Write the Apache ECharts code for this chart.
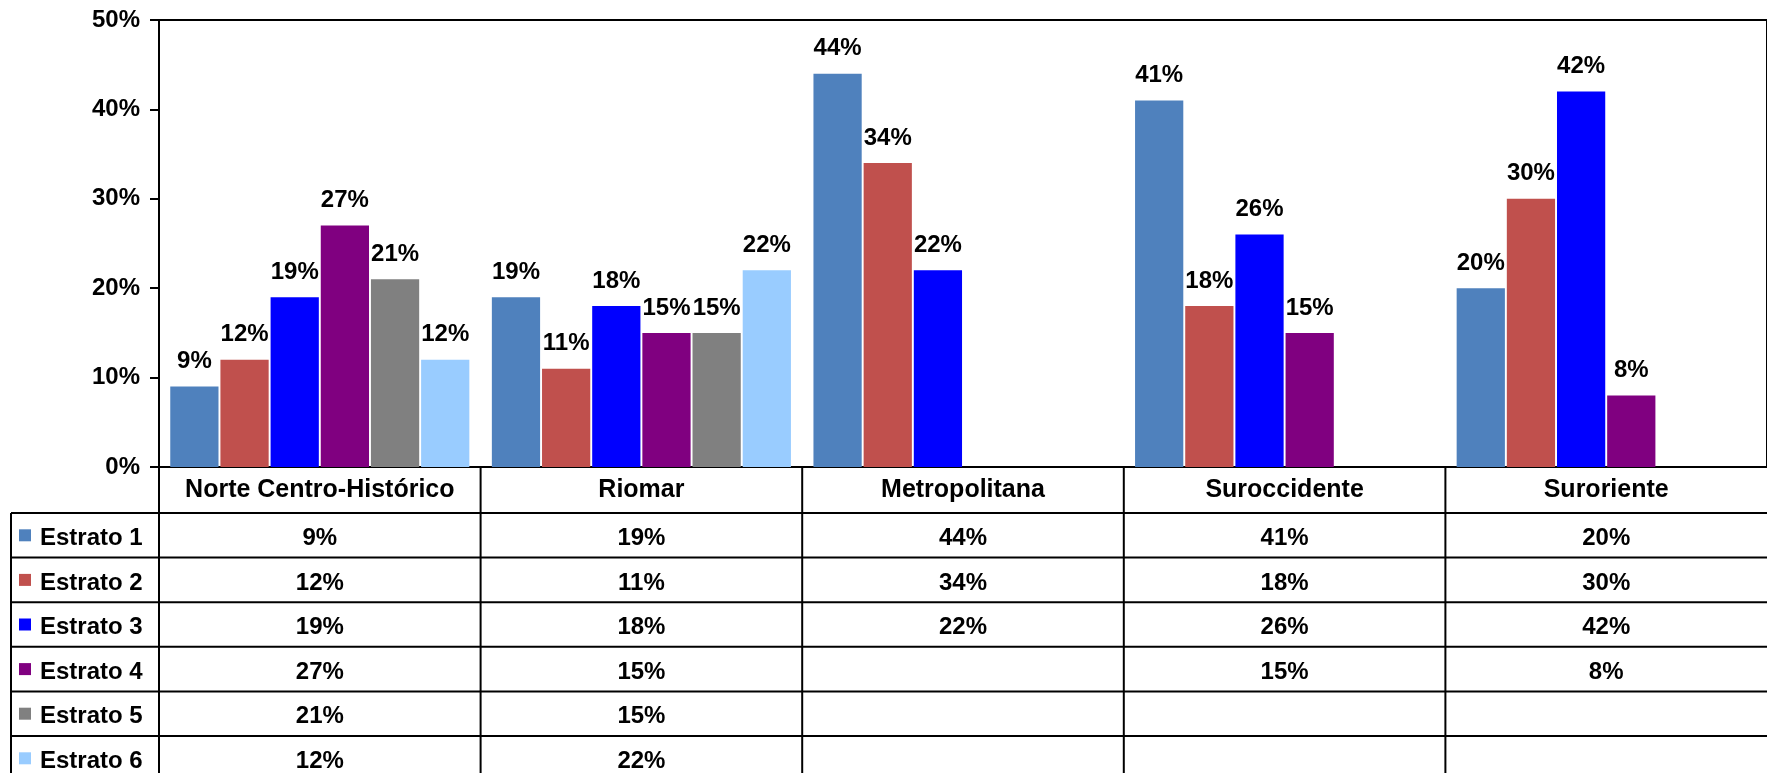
<!DOCTYPE html>
<html>
<head>
<meta charset="utf-8">
<title>Estratos por localidad</title>
<script src="https://cdn.jsdelivr.net/npm/echarts@6/dist/echarts.min.js"></script>
<style>
  html, body { margin: 0; padding: 0; background: #fff; }
  #chart { width: 1767px; height: 773px; }
</style>
</head>
<body>
<div id="chart"></div>
<script>
// datos
const categories = ['Norte Centro-Histórico', 'Riomar', 'Metropolitana', 'Suroccidente', 'Suroriente']
const seriesNames = ['Estrato 1', 'Estrato 2', 'Estrato 3', 'Estrato 4', 'Estrato 5', 'Estrato 6']
const estrato1 = [9, 19, 44, 41, 20]
const estrato2 = [12, 11, 34, 18, 30]
const estrato3 = [19, 18, 22, 26, 42]
const estrato4 = [27, 15, null, 15, 8]
const estrato5 = [21, 15, null, null, null]
const estrato6 = [12, 22, null, null, null]
const yTicks = [0, 10, 20, 30, 40, 50]

const seriesData = [estrato1, estrato2, estrato3, estrato4, estrato5, estrato6]
const colors = ['#4F81BD', '#C0504D', '#0000FF', '#800080', '#808080', '#99CCFF']
const FONT = '"Liberation Sans", Arial, sans-serif'

const chart = echarts.init(document.getElementById('chart'))

const option = {
  animation: false,
  backgroundColor: '#fff',
  grid: {
    left: 159,
    top: 20,
    width: 1615,
    height: 447,
    show: true,
    borderColor: '#000',
    borderWidth: 2,
    backgroundColor: 'transparent'
  },
  xAxis: {
    type: 'category',
    data: categories,
    axisLine: { lineStyle: { color: '#000', width: 2 } },
    axisTick: { show: false },
    axisLabel: {
      color: '#000',
      fontFamily: FONT,
      fontWeight: 'bold',
      fontSize: 25,
      margin: 11,
      interval: 0
    }
  },
  yAxis: {
    type: 'value',
    min: yTicks[0],
    max: yTicks[yTicks.length - 1],
    interval: 10,
    axisLine: { show: true, lineStyle: { color: '#000', width: 2 } },
    axisTick: { show: true, inside: false, length: 9, lineStyle: { color: '#000', width: 2 } },
    splitLine: { show: false },
    axisLabel: {
      color: '#000',
      fontFamily: FONT,
      fontWeight: 'bold',
      fontSize: 24,
      margin: 19,
      formatter: '{value}%'
    }
  },
  series: seriesNames.map((name, i) => ({
    name: name,
    type: 'bar',
    data: seriesData[i],
    barCategoryGap: '7%',
    barGap: '4%',
    itemStyle: { color: colors[i] },
    label: {
      show: true,
      position: 'top',
      distance: 13,
      color: '#000',
      fontFamily: FONT,
      fontWeight: 'bold',
      fontSize: 24,
      formatter: (p) => (p.value == null ? '' : p.value + '%')
    }
  }))
}

chart.setOption(option)

// tabla de datos debajo del gráfico
const buildTable = () => {
  const c0 = chart.convertToPixel({ xAxisIndex: 0 }, 0)
  const c1 = chart.convertToPixel({ xAxisIndex: 0 }, 1)
  const band = c1 - c0
  const baseY = chart.convertToPixel({ yAxisIndex: 0 }, 0)
  const axisX = c0 - band / 2
  const tableLeft = 11
  const headerH = 46
  const rowH = 44.6
  const bodyTop = baseY + headerH
  const bottom = bodyTop + rowH * seriesNames.length
  const right = 1767
  const line = (x1, y1, x2, y2) => ({
    type: 'line',
    silent: true,
    shape: { x1, y1, x2, y2 },
    style: { stroke: '#000', lineWidth: 2 }
  })
  const text = (str, x, y, align) => ({
    type: 'text',
    silent: true,
    style: {
      text: str,
      x: x,
      y: y,
      fill: '#000',
      font: 'bold 24px ' + FONT,
      textAlign: align,
      align: align,
      textVerticalAlign: 'middle',
      verticalAlign: 'middle'
    }
  })

  const els = []
  // horizontales
  for (let r = 0; r <= seriesNames.length; r++) {
    const y = bodyTop + rowH * r
    els.push(line(tableLeft, y, right, y))
  }
  // verticales
  els.push(line(tableLeft, bodyTop, tableLeft, bottom))
  for (let i = 0; i < categories.length; i++) {
    const x = axisX + band * i
    els.push(line(x, baseY, x, bottom))
  }
  // filas
  seriesNames.forEach((name, r) => {
    const cy = bodyTop + rowH * r + rowH / 2
    els.push({
      type: 'rect',
      silent: true,
      shape: { x: 19, y: cy - 6, width: 12, height: 12 },
      style: { fill: colors[r] }
    })
    els.push(text(name, 40, cy + 3, 'left'))
    seriesData[r].forEach((v, i) => {
      if (v == null) return
      els.push(text(v + '%', c0 + band * i, cy + 3, 'center'))
    })
  })
  chart.setOption({ graphic: { elements: els } })
}

buildTable()
</script>
</body>
</html>
